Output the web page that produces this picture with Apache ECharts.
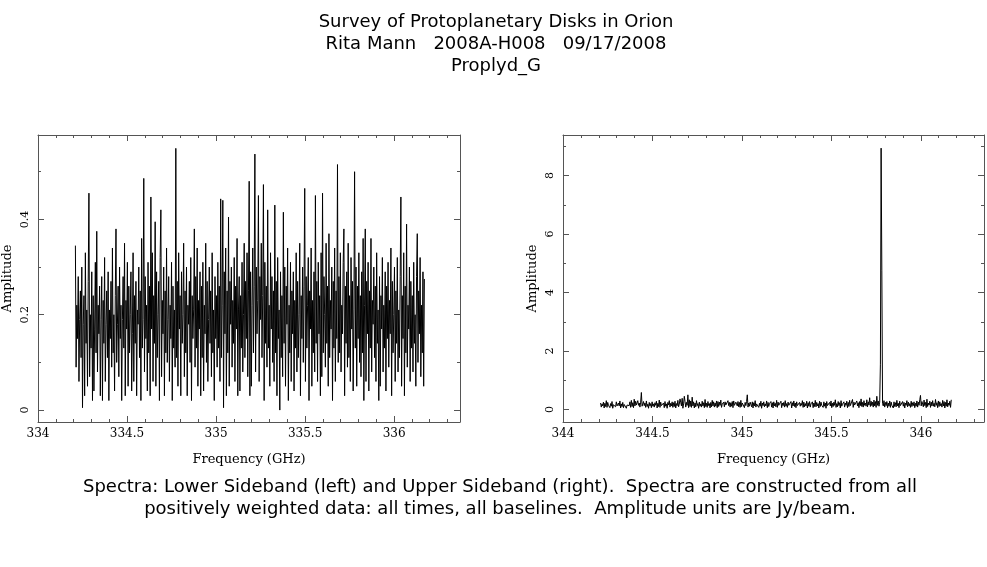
<!DOCTYPE html>
<html>
<head>
<meta charset="utf-8">
<script src="https://cdn.jsdelivr.net/npm/echarts@6/dist/echarts.min.js"></script>
<style>
html,body{margin:0;padding:0;background:#fff;}
#chart{width:987px;height:567px;}
</style>
</head>
<body>
<div id="chart"></div>
<script>
// ---- Data ----
const titleLines = ["Survey of Protoplanetary Disks in Orion", "Rita Mann   2008A-H008   09/17/2008", "Proplyd_G"];
const captionLines = ["Spectra: Lower Sideband (left) and Upper Sideband (right).  Spectra are constructed from all", "positively weighted data: all times, all baselines.  Amplitude units are Jy/beam."];
const xAxisName = "Frequency (GHz)";
const yAxisName = "Amplitude";

// channel grids (GHz)
const lsbStart = 334.21, usbStart = 344.21, chanWidth = 0.004;

// Lower sideband amplitudes (Jy/beam)
const lsbAmp = [
.345,.09,.22,.15,.28,.06,.19,.25,.11,.30,
.005,.18,.24,.03,.33,.14,.21,.05,.27,.455,
.07,.20,.13,.29,.02,.24,.04,.17,.31,.12,
.375,.08,.22,.16,.26,.03,.19,.28,.02,.23,
.14,.32,.06,.18,.25,.11,.29,.02,.21,.15,
.27,.09,.34,.12,.20,.04,.24,.38,.10,.18,
.26,.07,.30,.15,.22,.02,.19,.28,.13,.35,
.03,.23,.17,.31,.05,.26,.12,.20,.29,.04,
.16,.33,.06,.24,.14,.27,.03,.21,.18,.30,
.11,.25,.02,.36,.13,.19,.486,.08,.28,.15,
.22,.04,.31,.12,.26,.03,.447,.17,.33,.06,
.24,.14,.395,.05,.29,.11,.20,.27,.02,.32,
.42,.07,.23,.16,.30,.03,.25,.12,.34,.10,
.19,.28,.06,.22,.15,.31,.02,.26,.13,.21,
.09,.549,.11,.27,.05,.33,.17,.24,.03,.29,
.14,.20,.35,.07,.25,.12,.30,.03,.22,.18,
.27,.10,.32,.02,.24,.15,.21,.38,.09,.28,
.13,.34,.05,.23,.17,.29,.03,.26,.11,.31,
.04,.22,.16,.35,.10,.27,.06,.19,.30,.14,
.25,.07,.33,.12,.21,.02,.28,.15,.24,.09,
.31,.13,.26,.06,.443,.11,.22,.44,.005,.29,
.16,.34,.03,.25,.12,.405,.05,.27,.18,.30,
.09,.23,.14,.32,.06,.26,.17,.36,.03,.21,
.28,.04,.24,.13,.31,.08,.20,.35,.11,.27,
.15,.33,.07,.25,.48,.03,.29,.05,.22,.34,
.12,.26,.537,.08,.30,.16,.23,.45,.06,.28,
.19,.35,.11,.24,.473,.02,.31,.14,.26,.09,
.42,.13,.22,.05,.33,.17,.28,.10,.25,.06,
.43,.12,.27,.03,.32,.15,.21,.0,.29,.11,
.24,.07,.415,.14,.30,.05,.26,.18,.34,.02,
.22,.12,.31,.06,.25,.16,.29,.04,.23,.13,
.33,.08,.27,.11,.20,.35,.03,.24,.15,.30,
.10,.26,.465,.06,.28,.13,.22,.32,.02,.25,
.17,.34,.05,.23,.12,.29,.08,.45,.14,.27,
.06,.31,.16,.24,.03,.33,.07,.455,.12,.28,
.20,.09,.35,.14,.26,.05,.37,.11,.23,.17,
.30,.02,.27,.13,.34,.06,.25,.15,.515,.10,
.28,.12,.33,.08,.22,.16,.31,.38,.03,.26,
.14,.29,.09,.35,.11,.24,.06,.32,.17,.27,
.04,.21,.50,.13,.30,.05,.26,.15,.33,.10,
.24,.07,.29,.12,.36,.02,.22,.38,.06,.27,
.16,.31,.04,.25,.13,.36,.08,.23,.18,.30,
.11,.26,.06,.33,.14,.21,.02,.28,.05,.24,
.17,.32,.08,.22,.13,.29,.04,.26,.15,.31,
.09,.23,.16,.34,.03,.27,.12,.20,.30,.06,
.25,.14,.32,.08,.21,.11,.28,.447,.05,.24,
.15,.33,.03,.26,.12,.39,.09,.22,.17,.30,
.06,.27,.13,.24,.08,.31,.14,.20,.05,.28,
.37,.10,.25,.16,.32,.07,.22,.12,.29,.05,
.275
];

// Upper sideband amplitudes (Jy/beam) (strong line near 345.78 GHz)
const usbAmp = [
.22,.08,.19,.12,.25,.05,.21,.10,.30,.07,
.24,.14,.18,.06,.20,.11,.27,.04,.16,.13,
.18,.09,.26,.12,.07,.22,.12,.29,.05,.19,
.10,.24,.06,.17,.11,.21,.04,.15,.09,.20,
.13,.26,.07,.31,.10,.23,.06,.35,.12,.28,
.15,.09,.30,.14,.22,.08,.25,.58,.11,.05,
.27,.13,.22,.07,.29,.10,.18,.04,.24,.12,
.20,.06,.26,.11,.19,.08,.23,.14,.28,.05,
.21,.10,.32,.07,.25,.13,.19,.09,.22,.06,
.27,.11,.19,.04,.24,.15,.30,.08,.21,.12,
.26,.07,.23,.10,.28,.05,.20,.13,.31,.09,
.18,.36,.25,.12,.38,.04,.19,.45,.27,.08,
.24,.14,.50,.06,.33,.10,.29,.07,.42,.12,
.26,.05,.22,.09,.30,.13,.20,.04,.25,.11,
.19,.08,.28,.12,.23,.06,.34,.10,.21,.07,
.27,.13,.20,.05,.24,.09,.31,.12,.26,.08,
.22,.11,.29,.06,.27,.10,.25,.14,.32,.07,
.18,.12,.25,.09,.26,.15,.20,.10,.30,.13,
.24,.08,.23,.11,.27,.06,.29,.14,.18,.25,
.21,.12,.27,.09,.24,.07,.31,.10,.22,.28,
.20,.06,.24,.13,.27,.50,.08,.22,.11,.25,
.17,.09,.26,.05,.23,.12,.30,.08,.19,.14,
.25,.07,.21,.11,.28,.04,.22,.13,.26,.09,
.19,.12,.29,.06,.24,.10,.20,.15,.27,.08,
.23,.05,.26,.12,.21,.09,.31,.07,.25,.14,
.18,.10,.28,.06,.22,.13,.24,.08,.30,.11,
.20,.07,.25,.14,.19,.09,.27,.05,.23,.12,
.29,.10,.22,.06,.26,.13,.18,.08,.24,.11,
.21,.14,.30,.07,.25,.09,.20,.12,.28,.05,
.23,.11,.27,.08,.19,.13,.26,.06,.22,.10,
.31,.09,.24,.12,.20,.05,.28,.10,.25,.14,
.18,.07,.26,.11,.22,.04,.27,.13,.19,.08,
.24,.12,.29,.06,.21,.10,.25,.14,.33,.07,
.20,.09,.27,.13,.23,.05,.30,.11,.18,.12,
.26,.08,.22,.14,.28,.06,.24,.10,.31,.13,
.19,.11,.34,.07,.25,.15,.21,.09,.29,.12,
.23,.06,.27,.13,.36,.10,.24,.08,.30,.14,
.22,.11,.33,.09,.26,.15,.40,.10,.28,.13,
.25,.08,.32,.12,.27,.07,.45,.14,.29,.11,
.25,1.55,8.94,4.74,.20,.12,.30,.08,.24,.13,
.27,.06,.22,.11,.29,.07,.25,.14,.20,.05,
.26,.10,.23,.09,.31,.12,.21,.06,.28,.13,
.19,.08,.27,.11,.24,.05,.22,.14,.30,.09,
.25,.12,.20,.07,.28,.10,.23,.13,.26,.06,
.21,.11,.29,.08,.25,.14,.33,.48,.12,.27,
.18,.09,.32,.13,.24,.06,.35,.10,.22,.15,
.28,.07,.25,.12,.30,.11,.21,.09,.34,.14,
.23,.06,.29,.10,.26,.13,.20,.08,.31,.12,
.27,.05,.24,.11,.33,.09,.22,.14,.28,.07,
.33
];

// axis extents and tick steps
const lsbX = {min: 334, max: 336.37, major: 0.5, minor: 0.1};
const usbX = {min: 344, max: 346.353, major: 0.5, minor: 0.1};
const lsbY = {min: -0.025, max: 0.577, major: 0.2, minor: 0.1};
const usbY = {min: -0.43, max: 9.39, major: 2, minor: 1};

// ---- Build ----
const frameColor = '#555';
const xTickFont = {fontFamily: 'DejaVu Serif', fontSize: 12, color: '#000'};
const yTickFont = {fontFamily: 'DejaVu Serif', fontSize: 11, color: '#000'};
const nameFont = {fontFamily: 'DejaVu Serif', fontSize: 13, color: '#000'};

function onStep(v, step) {
  const r = v / step;
  return Math.abs(r - Math.round(r)) < 1e-6;
}
function fmt(v) { return String(+v.toFixed(2)); }

function axis(kind, grid, ext, isMajor, pos, showLabel, name) {
  const step = isMajor ? ext.major : ext.minor;
  const a = {
    type: 'value', gridIndex: grid, min: ext.min, max: ext.max,
    minInterval: step, maxInterval: step, splitNumber: 5,
    position: pos, scale: true,
    axisLine: {show: isMajor, onZero: false, lineStyle: {color: frameColor, width: 1}},
    axisTick: {show: true, inside: true, length: isMajor ? 6 : 3, lineStyle: {color: frameColor, width: 1}},
    axisLabel: {show: showLabel, ...(kind === 'x' ? xTickFont : yTickFont), margin: kind === 'x' ? 6 : 7,
      formatter: v => onStep(v, ext.major) ? fmt(v) : ''},
    splitLine: {show: false}, minorTick: {show: false}
  };
  if (kind === 'y' && showLabel) a.axisLabel.rotate = 90;
  if (name) {
    a.name = name; a.nameLocation = 'middle';
    a.nameTextStyle = {...nameFont};
    if (kind === 'x') { a.nameGap = 31; }
    else { a.nameRotate = 90; a.nameGap = 24; }
  }
  return a;
}

const xAxes = [], yAxes = [];
[[lsbX, lsbY], [usbX, usbY]].forEach(([ex, ey], g) => {
  xAxes.push(axis('x', g, ex, true, 'bottom', true, xAxisName));
  xAxes.push(axis('x', g, ex, false, 'bottom', false));
  xAxes.push(axis('x', g, ex, true, 'top', false));
  xAxes.push(axis('x', g, ex, false, 'top', false));
  yAxes.push(axis('y', g, ey, true, 'left', true, yAxisName));
  yAxes.push(axis('y', g, ey, false, 'left', false));
  yAxes.push(axis('y', g, ey, true, 'right', false));
  yAxes.push(axis('y', g, ey, false, 'right', false));
});

const lsbData = lsbAmp.map((a, i) => [lsbStart + i * chanWidth, a]);
const usbData = usbAmp.map((a, i) => [usbStart + i * chanWidth, a]);

const textStyle = {fontFamily: 'DejaVu Sans', fontSize: 18, fontWeight: 'normal', color: '#000', lineHeight: 22};

const option = {
  animation: false,
  backgroundColor: '#fff',
  title: [
    {text: titleLines.join('\n'), left: 491, top: 6, textAlign: 'center', textStyle: textStyle},
    {text: captionLines.join('\n'), left: 495, top: 471, textAlign: 'center', textStyle: textStyle}
  ],
  grid: [
    {left: 38, top: 135, width: 422, height: 287},
    {left: 563, top: 135, width: 422, height: 287}
  ],
  xAxis: xAxes,
  yAxis: yAxes,
  series: [
    {type: 'line', xAxisIndex: 0, yAxisIndex: 0, data: lsbData, showSymbol: false, symbol: 'none',
     lineStyle: {color: '#000', width: 1}, itemStyle: {color: '#000'}},
    {type: 'line', xAxisIndex: 4, yAxisIndex: 4, data: usbData, showSymbol: false, symbol: 'none',
     lineStyle: {color: '#000', width: 1}, itemStyle: {color: '#000'}}
  ]
};
const chart = echarts.init(document.getElementById('chart'), null, {renderer: 'canvas'});
chart.setOption(option);
</script>
</body>
</html>
